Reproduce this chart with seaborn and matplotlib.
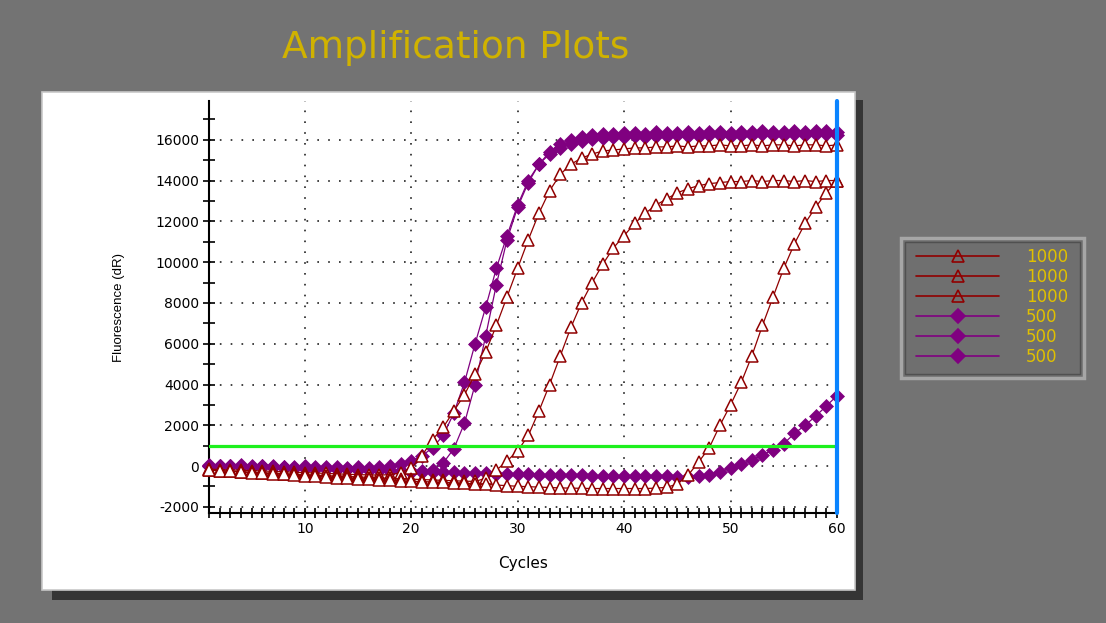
import pandas as pd
import matplotlib
matplotlib.use("Agg")
import matplotlib.pyplot as plt
import seaborn as sns
from matplotlib.patches import Rectangle
from matplotlib.lines import Line2D
from matplotlib.ticker import MultipleLocator, FixedLocator

# ---- data (fluorescence dR per cycle) ----
cycles = list(range(1, 61))

r1 = [-150, -170, -190, -200, -220, -240, -260, -280, -300, -320,
      -340, -360, -380, -400, -420, -430, -440, -420, -330, -100,
      500, 1300, 1900, 2700, 3500, 4500, 5600, 6900, 8300, 9700,
      11100, 12400, 13500, 14300, 14800, 15100, 15300, 15450, 15500, 15550,
      15600, 15600, 15650, 15650, 15700, 15650, 15700, 15700, 15750, 15700,
      15700, 15750, 15700, 15750, 15750, 15700, 15750, 15750, 15700, 15750]

r2 = [-200, -220, -250, -270, -300, -320, -350, -370, -400, -420,
      -440, -470, -490, -510, -530, -560, -580, -600, -620, -640,
      -660, -680, -700, -720, -740, -750, -600, -200, 250, 750,
      1500, 2700, 4000, 5400, 6800, 8000, 9000, 9900, 10700, 11300,
      11900, 12400, 12800, 13100, 13400, 13600, 13750, 13850, 13900, 13950,
      13950, 14000, 13950, 14000, 14000, 13950, 14000, 13950, 14000, 14000]

r3 = [-200, -230, -260, -290, -320, -350, -380, -410, -440, -470,
      -500, -530, -560, -590, -620, -650, -680, -700, -720, -740,
      -760, -780, -800, -820, -840, -870, -900, -930, -960, -990,
      -1010, -1030, -1050, -1070, -1080, -1090, -1100, -1100, -1100, -1100,
      -1100, -1100, -1080, -1040, -880, -450, 200, 900, 2000, 3000,
      4100, 5400, 6900, 8300, 9700, 10900, 11900, 12700, 13400, 14000]

p1 = [0, 20, -10, 30, 0, -20, 10, -30, -40, -20,
      -50, -60, -40, -70, -60, -80, -50, 0, 100, 250,
      500, 900, 1500, 2600, 4100, 6000, 7800, 9700, 11300, 12800,
      14000, 14800, 15300, 15600, 15800, 15950, 16050, 16100, 16150, 16150,
      16200, 16150, 16200, 16200, 16250, 16200, 16200, 16250, 16250, 16200,
      16250, 16250, 16300, 16250, 16250, 16300, 16250, 16300, 16300, 16250]

p2 = [0, -20, 10, -30, -40, -20, -60, -50, -80, -100,
      -120, -110, -140, -160, -150, -180, -200, -220, -250, -280,
      -300, -200, 150, 850, 2100, 4000, 6400, 8900, 11100, 12700,
      13900, 14800, 15400, 15800, 16000, 16150, 16250, 16300, 16300, 16350,
      16350, 16300, 16400, 16350, 16350, 16400, 16350, 16400, 16400, 16350,
      16400, 16400, 16450, 16400, 16400, 16450, 16400, 16450, 16450, 16400]

p3 = [30, 10, 0, -20, -30, -40, -60, -70, -80, -100,
      -110, -130, -140, -160, -170, -190, -200, -220, -230, -250,
      -260, -280, -290, -310, -320, -340, -350, -370, -380, -400,
      -410, -420, -430, -440, -450, -460, -470, -480, -490, -500,
      -500, -510, -510, -510, -520, -540, -500, -420, -300, -80,
      100, 300, 550, 800, 1100, 1600, 2000, 2450, 2950, 3450]

wells = ["R1", "R2", "R3", "P1", "P2", "P3"]
legend_labels = ["1000", "1000", "1000", "500", "500", "500"]
threshold = 1000

RED = "#900000"
PURPLE = "#800080"

df = pd.concat([
    pd.DataFrame({"cycle": cycles, "dR": vals, "well": w})
    for w, vals in zip(wells, [r1, r2, r3, p1, p2, p3])
])

sns.set_theme(style="white")
plt.rcParams["font.family"] = ["DejaVu Sans"]
plt.rcParams["axes.unicode_minus"] = False

W, H = 1106, 623
fig = plt.figure(figsize=(W / 100, H / 100), dpi=100)
fig.patch.set_facecolor("#737373")

# white panel with dark drop shadow
fig.add_artist(Rectangle((52 / W, 1 - 600 / H), (863 - 52) / W, (600 - 100) / H,
                         transform=fig.transFigure, facecolor="#353535",
                         edgecolor="none", zorder=-2))
fig.add_artist(Rectangle((42 / W, 1 - 590 / H), (855 - 42) / W, (590 - 92) / H,
                         transform=fig.transFigure, facecolor="white",
                         edgecolor="#c8c8c8", lw=1.2, zorder=-1))

fig.text(456 / W, 1 - 48 / H, "Amplification Plots", ha="center", va="center",
         fontsize=27, color="#d0b200")

ax = fig.add_axes([209 / W, 1 - 513 / H, (837 - 209) / W, (513 - 101) / H])
ax.set_facecolor("white")

sns.lineplot(data=df[df.well.str.startswith("P")], x="cycle", y="dR", hue="well",
             palette={"P1": PURPLE, "P2": PURPLE, "P3": PURPLE},
             style="well", markers={"P1": "D", "P2": "D", "P3": "D"}, dashes=False,
             markersize=7, markeredgecolor=PURPLE, markeredgewidth=0.5,
             lw=0.9, errorbar=None, legend=False, clip_on=False, ax=ax, zorder=3)
sns.lineplot(data=df[df.well.str.startswith("R")], x="cycle", y="dR", hue="well",
             palette={"R1": RED, "R2": RED, "R3": RED},
             style="well", markers={"R1": "^", "R2": "^", "R3": "^"}, dashes=False,
             markersize=9, markeredgecolor=RED, markerfacecolor="white",
             markeredgewidth=1.1, lw=0.9, errorbar=None, legend=False,
             clip_on=False, ax=ax, zorder=4)

ax.axhline(threshold, color="#1ef01e", lw=2.3, zorder=6)
ax.axvline(60, color="#0a84ff", lw=3, zorder=7, clip_on=False)

ax.set_xlim(1, 60)
ax.set_ylim(-2300, 17900)
ax.xaxis.set_major_locator(FixedLocator([10, 20, 30, 40, 50, 60]))
ax.xaxis.set_minor_locator(MultipleLocator(1))
ax.yaxis.set_major_locator(FixedLocator(list(range(-2000, 16001, 2000))))
ax.yaxis.set_minor_locator(FixedLocator(list(range(-1000, 17001, 2000))))

for s in ["top", "right"]:
    ax.spines[s].set_visible(False)
for s in ["left", "bottom"]:
    ax.spines[s].set_color("black")
    ax.spines[s].set_linewidth(1.5)

ax.tick_params(axis="both", which="both", direction="inout", color="black",
               width=1.2, labelsize=10, labelcolor="black", bottom=True, left=True)
ax.tick_params(axis="x", which="both", length=7.5, pad=3)
ax.tick_params(axis="y", which="both", length=8, pad=3)

ax.grid(True, which="major", color="#222222", linestyle=(0, (1, 5.5)), lw=1.2)
ax.set_axisbelow(True)

ax.set_xlabel("Cycles", fontsize=11, labelpad=14, color="black")
ax.set_ylabel("Fluorescence (dR)", fontsize=9.5, family="Liberation Sans",
              labelpad=22, color="black")

# legend box
fig.add_artist(Rectangle((901 / W, 1 - 378 / H), (1084 - 901) / W, (378 - 238) / H,
                         transform=fig.transFigure, facecolor="#6f6f6f",
                         edgecolor="#a6a6a6", lw=2.5, zorder=1))
fig.add_artist(Rectangle((905 / W, 1 - 374 / H), (1080 - 905) / W, (374 - 242) / H,
                         transform=fig.transFigure, facecolor="none",
                         edgecolor="#505050", lw=1, zorder=1))
handles = [
    Line2D([], [], color=RED if w.startswith("R") else PURPLE, lw=1.2,
           marker="^" if w.startswith("R") else "D",
           markersize=9 if w.startswith("R") else 7,
           markerfacecolor="none" if w.startswith("R") else PURPLE,
           markeredgecolor=RED if w.startswith("R") else PURPLE, markeredgewidth=1.2)
    for w in wells
]
leg = fig.legend(handles, legend_labels, loc="center",
                 bbox_to_anchor=(992 / W, 1 - 307 / H), bbox_transform=fig.transFigure,
                 frameon=False, fontsize=12, handlelength=5.0, handletextpad=1.6,
                 labelspacing=0.12, borderpad=0)
for t in leg.get_texts():
    t.set_color("#e0c000")

fig.savefig("out.png", dpi=100, facecolor=fig.get_facecolor())
